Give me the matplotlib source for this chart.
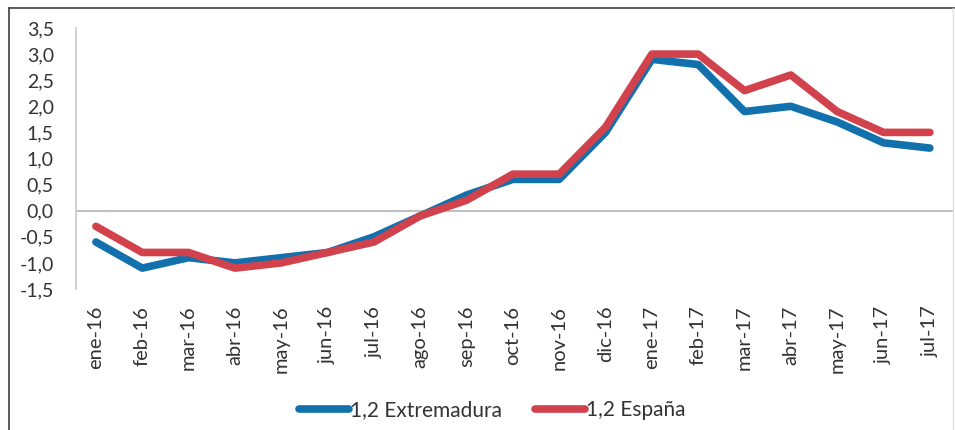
import matplotlib
matplotlib.use("Agg")
import matplotlib.pyplot as plt
from matplotlib.lines import Line2D

months = ["ene-16", "feb-16", "mar-16", "abr-16", "may-16", "jun-16", "jul-16",
          "ago-16", "sep-16", "oct-16", "nov-16", "dic-16", "ene-17", "feb-17",
          "mar-17", "abr-17", "may-17", "jun-17", "jul-17"]
extremadura = [-0.6, -1.1, -0.9, -1.0, -0.9, -0.8, -0.5, -0.1, 0.3, 0.6, 0.6,
               1.5, 2.9, 2.8, 1.9, 2.0, 1.7, 1.3, 1.2]
espana = [-0.3, -0.8, -0.8, -1.1, -1.0, -0.8, -0.6, -0.1, 0.2, 0.7, 0.7,
          1.6, 3.0, 3.0, 2.3, 2.6, 1.9, 1.5, 1.5]
yticks = [-1.5, -1.0, -0.5, 0.0, 0.5, 1.0, 1.5, 2.0, 2.5, 3.0, 3.5]
ytick_labels = [f"{v:.1f}".replace(".", ",") for v in yticks]

plt.rcParams['font.family'] = ['Lato', 'DejaVu Sans']

W, H = 955, 430
fig = plt.figure(figsize=(W / 100, H / 100), dpi=100)
ax = fig.add_axes([76 / W, 1 - 289 / H, (953 - 76) / W, (289 - 28) / H])

blue = '#1270AC'
red = '#D1424C'
txt = '#333333'
x = list(range(len(months)))
ax.plot(x, extremadura, color=blue, lw=5.5, solid_capstyle='round',
        solid_joinstyle='round', label='1,2 Extremadura', zorder=3)
ax.plot(x, espana, color=red, lw=5.5, solid_capstyle='round',
        solid_joinstyle='round', label='1,2 España', zorder=4)

ax.set_xlim(-0.43, 18.5)
ax.set_ylim(-1.5, 3.5)
ax.axhline(0, color='#C0C0C0', lw=1.5, zorder=1)

for s in ['top', 'right', 'bottom']:
    ax.spines[s].set_visible(False)
ax.spines['left'].set_color('#C8C8C8')
ax.spines['left'].set_linewidth(1.2)

ax.set_yticks(yticks)
ax.set_yticklabels(ytick_labels, fontsize=14, color=txt)
ax.set_xticks(x)
ax.set_xticklabels(months, rotation=90, fontsize=14.5, color=txt)
ax.tick_params(axis='y', length=0, pad=16)
ax.tick_params(axis='x', length=0, pad=12)

handles = [Line2D([], [], color=blue, lw=5.5, solid_capstyle='round'),
           Line2D([], [], color=red, lw=5.5, solid_capstyle='round')]
fig.legend(handles, ['1,2 Extremadura', '1,2 España'], loc='center',
           bbox_to_anchor=(492 / W, 1 - 410 / H), ncol=2, frameon=False,
           fontsize=15, handlelength=2.4, handletextpad=0.05,
           columnspacing=1.6, labelcolor=txt)

# outer border
fig.add_artist(Line2D([9 / W, 9 / W], [0, 1 - 8 / H], transform=fig.transFigure,
                      color='#404040', lw=1.2))
fig.add_artist(Line2D([9 / W, 1], [1 - 8 / H, 1 - 8 / H], transform=fig.transFigure,
                      color='#404040', lw=1.2))
fig.add_artist(Line2D([953 / W, 953 / W], [0, 1 - 8 / H], transform=fig.transFigure,
                      color='#E0E0E0', lw=1.0))

fig.savefig('out.png', dpi=100, facecolor='white')
